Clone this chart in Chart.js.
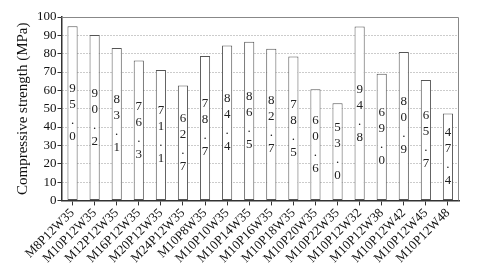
<!DOCTYPE html>
<html>
<head>
<meta charset="utf-8">
<script src="https://cdn.jsdelivr.net/npm/chart.js@4/dist/chart.umd.min.js"></script>
<style>
  html, body { margin: 0; padding: 0; background: #fff; }
  #wrap { width: 480px; height: 273px; }
</style>
</head>
<body>
<div id="wrap"><canvas id="chart"></canvas></div>
<script>
let mixes = ['M8P12W35', 'M10P12W35', 'M12P12W35', 'M16P12W35', 'M20P12W35', 'M24P12W35',
    'M10P8W35', 'M10P10W35', 'M10P14W35', 'M10P16W35', 'M10P18W35', 'M10P20W35', 'M10P22W35',
    'M10P12W32', 'M10P12W38', 'M10P12W42', 'M10P12W45', 'M10P12W48'];
let strength = [95.0, 90.2, 83.1, 76.3, 71.1, 62.7, 78.7, 84.4, 86.5, 82.7, 78.5, 60.6, 53.0,
    94.8, 69.0, 80.9, 65.7, 47.4];
let yTicks = [0, 10, 20, 30, 40, 50, 60, 70, 80, 90, 100];

const serif = "'Times New Roman', 'Liberation Serif', Times, serif";

// writes the value down the middle of each bar, one character per line
const barText = {
    id: 'barText',
    afterDatasetsDraw(chart) {
        const ctx = chart.ctx;
        const meta = chart.getDatasetMeta(0);
        ctx.save();
        ctx.font = '13px ' + serif;
        ctx.fillStyle = '#222';
        ctx.textAlign = 'center';
        ctx.textBaseline = 'middle';
        meta.data.forEach((bar, i) => {
            let chars = strength[i].toFixed(1).split('');
            let mid = (bar.y + bar.base) / 2;
            let step = 16;
            let y0 = mid - step * (chars.length - 1) / 2;
            chars.forEach((c, k) => ctx.fillText(c, bar.x, y0 + k * step));
        });
        ctx.restore();
    }
};

// grey frame on top and right side of the plot
const frame = {
    id: 'frame',
    afterDraw(chart) {
        const a = chart.chartArea;
        const ctx = chart.ctx;
        ctx.save();
        ctx.strokeStyle = '#888';
        ctx.lineWidth = 1;
        ctx.beginPath();
        ctx.moveTo(a.left, a.top + 0.5);
        ctx.lineTo(a.right - 0.5, a.top + 0.5);
        ctx.lineTo(a.right - 0.5, a.bottom);
        ctx.stroke();
        ctx.restore();
    }
};

function createChart() {
    const ctx = document.getElementById('chart');

    new Chart(ctx, {
        type: 'bar',
        data: {
            labels: mixes,
            datasets: [{
                data: strength,
                backgroundColor: '#fff',
                borderColor: '#555',
                borderWidth: 1,
                borderSkipped: false,
                barPercentage: 0.46,
                categoryPercentage: 1
            }]
        },
        options: {
            responsive: true,
            maintainAspectRatio: false,
            animation: false,
            layout: { padding: { top: 17, right: 21, left: 14, bottom: 7 } },
            plugins: {
                legend: { display: false },
                tooltip: { enabled: false }
            },
            scales: {
                x: {
                    grid: {
                        offset: false,
                        drawOnChartArea: false,
                        tickLength: 5,
                        tickColor: '#333'
                    },
                    border: { color: '#333', width: 1.5 },
                    ticks: {
                        color: '#111',
                        font: { family: serif, size: 13 },
                        minRotation: 45,
                        maxRotation: 45,
                        autoSkip: false,
                        padding: 0
                    }
                },
                y: {
                    min: 0,
                    max: 100,
                    afterBuildTicks: (axis) => { axis.ticks = yTicks.map(v => ({ value: v })); },
                    grid: {
                        color: (c) => (c.tick && c.tick.value > 0 && c.tick.value < 100) ? '#999' : 'rgba(0,0,0,0)',
                        tickColor: '#333',
                        tickLength: 4
                    },
                    border: { color: '#333', width: 1.5, dash: [1, 2] },
                    ticks: {
                        color: '#111',
                        font: { family: serif, size: 13 },
                        padding: 1,
                        autoSkip: false
                    },
                    title: {
                        display: true,
                        text: 'Compressive strength (MPa)',
                        color: '#111',
                        font: { family: serif, size: 15 },
                        padding: { top: 0, bottom: 4 }
                    }
                }
            }
        },
        plugins: [barText, frame]
    });
}

createChart();
</script>
</body>
</html>
